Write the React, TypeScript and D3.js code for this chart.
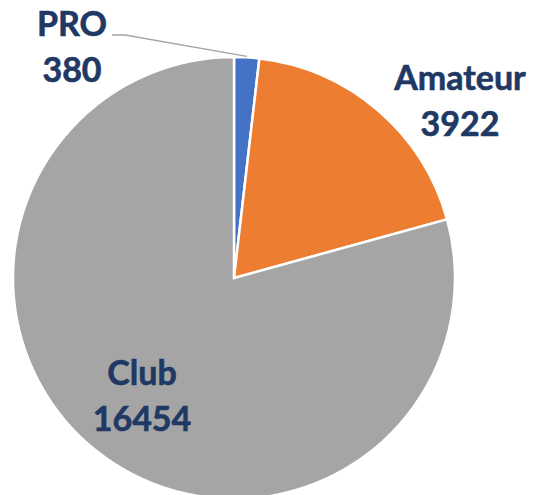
import React from "react";
import * as d3 from "d3";

const categories = ["PRO", "Amateur", "Club"];
const values = [380, 3922, 16454];
const colors = ["#4472C4", "#ED7D31", "#A5A5A5"];

// label anchor positions (layout)
const labelPos: [number, number][] = [
  [72, 36],
  [460, 90],
  [142, 385],
];

const W = 533;
const H = 495;
const cx = 234;
const cy = 278;
const R = 221;

export default function App() {
  const pie = d3
    .pie<number>()
    .sort(null)
    .value((d) => d)
    .startAngle(0)
    .endAngle(2 * Math.PI);
  const arcs = pie(values);
  const arc = d3.arc<d3.PieArcDatum<number>>().innerRadius(0).outerRadius(R);

  // leader line for PRO
  const proArc = arcs[0];
  const mid = (proArc.startAngle + proArc.endAngle) / 2;
  const ex = cx + Math.sin(mid) * (R + 1);
  const ey = cy - Math.cos(mid) * (R + 1);

  return (
    <svg
      width={W}
      height={H}
      style={{ position: "absolute", left: 0, top: 0 }}
      fontFamily="Lato, 'Open Sans', sans-serif"
    >
      <rect width={W} height={H} fill="#ffffff" />
      <g transform={`translate(${cx},${cy})`}>
        {arcs.map((a, i) => (
          <path
            key={categories[i]}
            d={arc(a) || ""}
            fill={colors[i]}
            stroke="#ffffff"
            strokeWidth={2.5}
            strokeLinejoin="miter"
          />
        ))}
      </g>
      <polyline
        points={`112,35 125,35 ${ex},${ey}`}
        fill="none"
        stroke="#A5A5A5"
        strokeWidth={1.5}
      />
      {categories.map((c, i) => (
        <text
          key={c}
          x={labelPos[i][0]}
          y={labelPos[i][1]}
          textAnchor="middle"
          fill="#203864"
          fontWeight="bold"
          fontSize={34}
          stroke="#203864"
          strokeWidth={0.6}
        >
          <tspan x={labelPos[i][0]}>{c}</tspan>
          <tspan x={labelPos[i][0]} dy={46}>
            {values[i]}
          </tspan>
        </text>
      ))}
    </svg>
  );
}
